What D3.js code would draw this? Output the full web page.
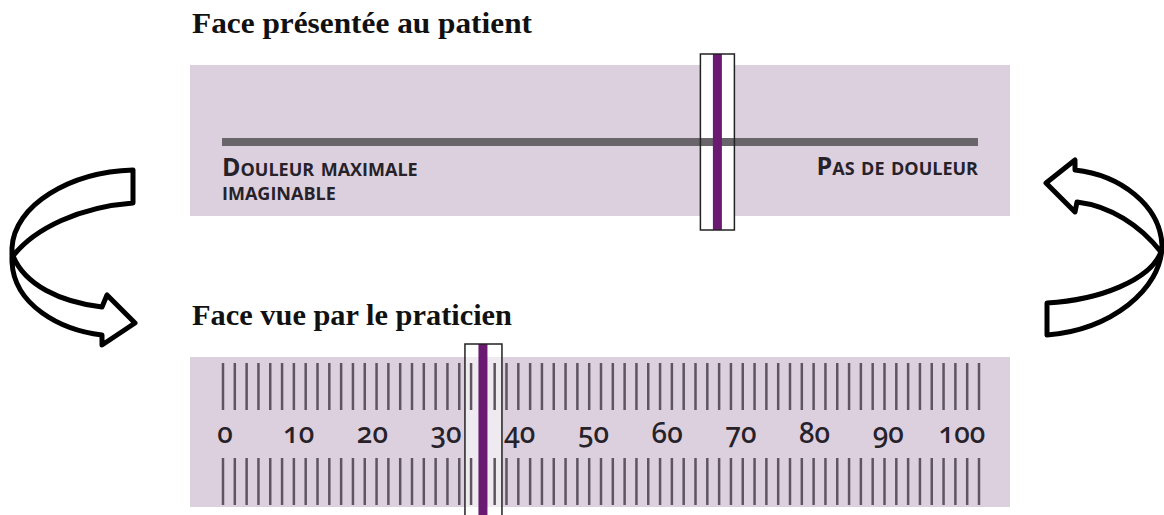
<!DOCTYPE html>
<html>
<head>
<meta charset="utf-8">
<script src="https://cdn.jsdelivr.net/npm/d3@7"></script>
<style>
  body { margin: 0; background: #fff; }
  svg { display: block; }
</style>
</head>
<body>
<script>
// values
let painValue = 35;                 // marker position (0 = pas de douleur)
let rulerLabels = [0, 10, 20, 30, 40, 50, 60, 70, 80, 90, 100];
let tickCount = 65;                 // graduations on the practitioner side
let titles = ["Face présentée au patient", "Face vue par le praticien"];
let leftLabel = ["Douleur maximale", "imaginable"];
let rightLabel = ["Pas de douleur"];

let width = 1164, height = 515;

let panelFill = "#dcd0de",
    lineGrey = "#69636a",
    purple = "#6b1a72",
    tickGrey = "#5e5560",
    textDark = "#27222a";

let svg = d3.select("body").append("svg")
    .attr("width", width)
    .attr("height", height);

// scales
let xTop = d3.scaleLinear().domain([100, 0]).range([226, 982]);   // patient side is reversed
let xBot = d3.scaleLinear().domain([0, 100]).range([225, 962]);
let xTick = d3.scaleLinear().domain([0, tickCount - 1]).range([223, 979]);

// ---- top panel : face présentée au patient
svg.append("text")
    .attr("x", 192).attr("y", 33)
    .attr("font-family", "Liberation Serif, serif")
    .attr("font-weight", "bold")
    .attr("font-size", 29)
    .attr("textLength", 340).attr("lengthAdjust", "spacingAndGlyphs")
    .attr("fill", "#111")
    .text(titles[0]);

svg.append("rect")
    .attr("x", 190).attr("y", 65)
    .attr("width", 820).attr("height", 151)
    .attr("fill", panelFill);

let topMark = xTop(painValue);
svg.append("rect")
    .attr("x", topMark - 17).attr("y", 54)
    .attr("width", 34).attr("height", 176)
    .attr("fill", "#fff");

// the printed line is a little shorter than the scale on the left end
svg.append("line")
    .attr("x1", 222).attr("x2", 978)
    .attr("y1", 142).attr("y2", 142)
    .attr("stroke", lineGrey).attr("stroke-width", 8);

svg.append("line")
    .attr("x1", topMark).attr("x2", topMark)
    .attr("y1", 54).attr("y2", 230)
    .attr("stroke", purple).attr("stroke-width", 9);

svg.append("rect")
    .attr("x", topMark - 17).attr("y", 54)
    .attr("width", 34).attr("height", 176)
    .attr("fill", "none").attr("stroke", "#222").attr("stroke-width", 1.5);

let labelG = svg.append("g")
    .attr("font-family", "Open Sans, sans-serif")
    .attr("font-weight", "bold")
    .attr("font-size", 25)
    .attr("fill", textDark)
    .style("font-variant", "small-caps");

// two-line label kept in one text element
labelG.append("text")
    .attr("y", 176)
    .selectAll("tspan")
    .data(leftLabel)
    .enter().append("tspan")
    .attr("x", 222)
    .attr("dy", function(d, i) { return i == 0 ? 0 : 24; })
    .text(function(d, i) { return i == 0 ? d : d.toLowerCase(); });

labelG.selectAll(".rl")
    .data(rightLabel)
    .enter().append("text")
    .attr("class", "rl")
    .attr("x", 978).attr("y", 175)
    .attr("text-anchor", "end")
    .text(function(d) { return d; });

// ---- bottom panel : face vue par le praticien
svg.append("text")
    .attr("x", 192).attr("y", 325)
    .attr("font-family", "Liberation Serif, serif")
    .attr("font-weight", "bold")
    .attr("font-size", 29)
    .attr("textLength", 320).attr("lengthAdjust", "spacingAndGlyphs")
    .attr("fill", "#111")
    .text(titles[1]);

svg.append("rect")
    .attr("x", 190).attr("y", 357)
    .attr("width", 820).attr("height", 150)
    .attr("fill", panelFill);

let botMark = xBot(painValue);
svg.append("rect")
    .attr("x", botMark - 18).attr("y", 344)
    .attr("width", 37).attr("height", 180)
    .attr("fill", "#fff").attr("fill-opacity", 0.55);

let ticks = d3.range(tickCount);
[[363, 410], [458, 505]].forEach(function(yy) {
    svg.append("g").selectAll("line")
        .data(ticks)
        .enter().append("line")
        .attr("x1", function(d) { return xTick(d); })
        .attr("x2", function(d) { return xTick(d); })
        .attr("y1", yy[0]).attr("y2", yy[1])
        .attr("stroke", tickGrey).attr("stroke-width", 2.5);
});

svg.append("g").selectAll("text")
    .data(rulerLabels)
    .enter().append("text")
    .attr("x", function(d) { return xBot(d); })
    .attr("y", 443)
    .attr("text-anchor", "middle")
    .attr("font-family", "Noto Sans, sans-serif")
    .attr("font-size", 28)
    .attr("font-weight", 500)
    .attr("fill", textDark)
    .style("font-feature-settings", "'onum' 1")
    .style("font-variant-numeric", "oldstyle-nums")
    .text(function(d) { return d; });

svg.append("line")
    .attr("x1", botMark).attr("x2", botMark)
    .attr("y1", 344).attr("y2", 524)
    .attr("stroke", purple).attr("stroke-width", 9);

svg.append("rect")
    .attr("x", botMark - 18).attr("y", 344)
    .attr("width", 37).attr("height", 180)
    .attr("fill", "none").attr("stroke", "#222").attr("stroke-width", 1.5);

// ---- turning arrows
let arrowStyle = function(p) {
    p.attr("fill", "#fff").attr("stroke", "#000")
     .attr("stroke-width", 5).attr("stroke-linejoin", "round");
};

svg.append("path")
    .attr("d", "M133,170 C70,172 14,205 12,248 L12,262 C14,305 60,330 102,335 " +
               "L102,345 L135,323 L107,295 L102,307 C60,302 25,285 13,256 " +
               "C35,228 80,207 133,203 Z")
    .call(arrowStyle);

svg.append("path")
    .attr("d", "M1046,183 L1075,160 L1075,170 C1120,175 1160,205 1162,245 " +
               "C1162,290 1110,330 1047,335 L1047,303 C1100,300 1150,280 1161,252 " +
               "C1140,225 1110,206 1077,202 L1075,212 Z")
    .call(arrowStyle);
</script>
</body>
</html>
